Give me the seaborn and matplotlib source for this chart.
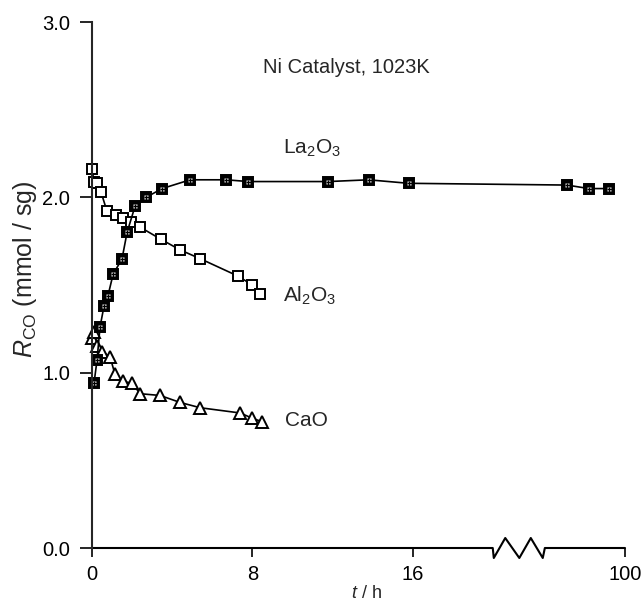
import numpy as np
import matplotlib
matplotlib.use("Agg")
import matplotlib.pyplot as plt
import seaborn as sns

# t / h and R_CO / (mmol / sg)
la_t = [0.1, 0.25, 0.4, 0.6, 0.8, 1.05, 1.5, 1.75, 2.15, 2.7, 3.5, 4.9, 6.7, 7.8, 11.8, 13.8, 15.8, 97.1, 98.2, 99.2]
la_r = [0.94, 1.07, 1.26, 1.38, 1.44, 1.56, 1.65, 1.80, 1.95, 2.00, 2.05, 2.10, 2.10, 2.09, 2.09, 2.10, 2.08, 2.07, 2.05, 2.05]

al_t = [0.0, 0.1, 0.25, 0.45, 0.75, 1.2, 1.55, 1.95, 2.4, 3.45, 4.4, 5.4, 7.3, 8.0, 8.4]
al_r = [2.16, 2.09, 2.08, 2.03, 1.92, 1.90, 1.88, 1.86, 1.83, 1.76, 1.70, 1.65, 1.55, 1.50, 1.45]

ca_t = [0.0, 0.1, 0.25, 0.5, 0.9, 1.15, 1.55, 2.0, 2.4, 3.4, 4.4, 5.4, 7.4, 8.0, 8.5]
ca_r = [1.20, 1.23, 1.15, 1.12, 1.09, 0.99, 0.95, 0.94, 0.88, 0.87, 0.83, 0.80, 0.77, 0.74, 0.72]

x_ticks = [0, 8, 16, 100]
x_ticklabels = ["0", "8", "16", "100"]
y_ticks = [0.0, 1.0, 2.0, 3.0]

# broken time axis: 20 h .. 96 h squeezed into a short gap
B0, B1, GAP = 20.0, 96.0, 2.6


def fwd(t):
    t = np.asarray(t, float)
    return np.where(t <= B0, t,
                    np.where(t < B1, B0 + (t - B0) * GAP / (B1 - B0), t - (B1 - B0) + GAP))


def inv(v):
    v = np.asarray(v, float)
    return np.where(v <= B0, v,
                    np.where(v < B0 + GAP, B0 + (v - B0) * (B1 - B0) / GAP, v + (B1 - B0) - GAP))


sns.set_style("ticks")
plt.rcParams["font.family"] = ["Liberation Sans", "DejaVu Sans"]
plt.rcParams["mathtext.fontset"] = "custom"
plt.rcParams["mathtext.rm"] = "Liberation Sans"
plt.rcParams["mathtext.it"] = "Liberation Sans:italic"
plt.rcParams["mathtext.bf"] = "Liberation Sans:bold"

fig = plt.figure(figsize=(6.42, 6.04), dpi=100)
ax = fig.add_axes([92 / 642, 56 / 604, 533 / 642, 526 / 604])

line_kw = dict(color="black", linewidth=1.2, markeredgecolor="black", markeredgewidth=1.4,
               clip_on=False, estimator=None, sort=False, ax=ax)

sns.lineplot(x=al_t, y=al_r, marker="s", markersize=7.5, markerfacecolor="white", **line_kw)
sns.lineplot(x=ca_t, y=ca_r, marker="^", markersize=9, markerfacecolor="white", **line_kw)
sns.lineplot(x=la_t, y=la_r, marker="s", markersize=6.5, markerfacecolor="black", **line_kw)
# little white dots inside the filled squares
ax.plot(la_t, la_r, ls="none", marker="s", ms=3.2, mfc="white", mec="none", clip_on=False)
ax.plot(la_t, la_r, ls="none", marker="+", ms=3.6, mew=1.0, color="black", clip_on=False)

ax.set_xscale("function", functions=(fwd, inv))
ax.set_xlim(0, 100)
ax.set_ylim(0, 3.0)
ax.set_xticks(x_ticks)
ax.set_xticklabels(x_ticklabels)
ax.set_yticks(y_ticks)
ax.set_yticklabels([f"{v:.1f}" for v in y_ticks])
ax.minorticks_off()

ax.tick_params(axis="x", direction="out", length=6.5, width=1.2, pad=6, labelsize=14.5, colors="black")
ax.tick_params(axis="y", direction="out", length=8.6, width=1.2, pad=7, labelsize=14.5, colors="black")

sns.despine(ax=ax)
ax.spines["left"].set_linewidth(1.5)
ax.spines["bottom"].set_visible(False)

# bottom axis line with zigzag break
a = float(fwd(B0) / fwd(100))
b = float(fwd(B1) / fwd(100))
w = b - a
d = 0.019
zx = [0, a, a + 0.02 * w, a + 0.24 * w, a + 0.51 * w, a + 0.73 * w, a + 0.96 * w, b, 1]
zy = [0, 0, -d, d, -d, d, -d, 0, 0]
ax.plot(zx, zy, transform=ax.transAxes, color="black", linewidth=1.5, clip_on=False)

ax.set_xlabel(r"$t$ / h", fontsize=13)
ax.xaxis.set_label_coords(0.514, -0.07)
ax.set_ylabel(r"$R_{\rm CO}$ (mmol / sg)", fontsize=18)
ax.yaxis.set_label_coords(-0.1, 0.53)

ax.text(8.52, 2.74, "Ni Catalyst, 1023K", fontsize=14.5, ha="left", va="center")
ax.text(9.52, 2.28, r"La$_2$O$_3$", fontsize=15, ha="left", va="center")
ax.text(9.52, 1.44, r"Al$_2$O$_3$", fontsize=15, ha="left", va="center")
ax.text(9.62, 0.73, "CaO", fontsize=15, ha="left", va="center")

fig.savefig("out.png", dpi=100)
